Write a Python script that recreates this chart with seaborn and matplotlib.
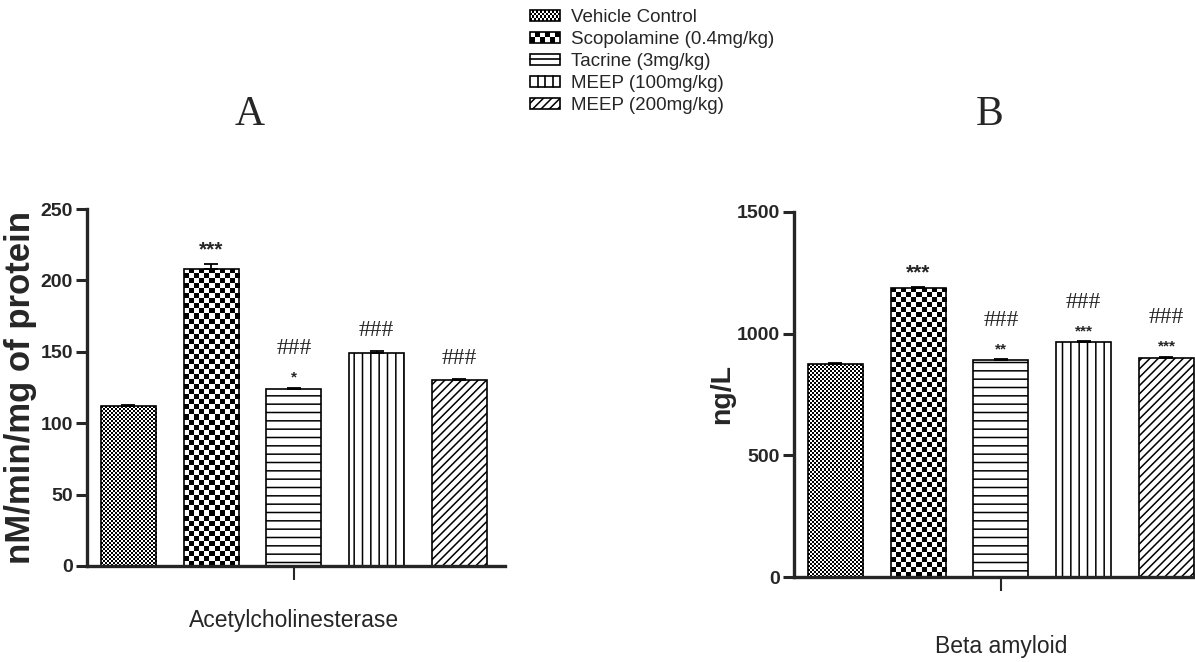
import numpy as np
import pandas as pd
import matplotlib
matplotlib.use("Agg")
import matplotlib.pyplot as plt
import seaborn as sns
from matplotlib.patches import Patch, Rectangle
from matplotlib.lines import Line2D
from matplotlib.legend_handler import HandlerBase

# data
groups = ["Vehicle Control", "Scopolamine (0.4mg/kg)", "Tacrine (3mg/kg)",
          "MEEP (100mg/kg)", "MEEP (200mg/kg)"]
ache_mean = [112, 208, 124, 149, 130]
ache_sem = [0.8, 3.5, 1.0, 1.5, 0.7]
ache_stars = ["", "***", "*", "", ""]
ache_hash = ["", "", "###", "###", "###"]
ache_yticks = [0, 50, 100, 150, 200, 250]

abeta_mean = [875, 1188, 892, 966, 900]
abeta_sem = [3, 4, 4, 4, 6]
abeta_stars = ["", "***", "**", "***", "***"]
abeta_hash = ["", "", "###", "###", "###"]
abeta_yticks = [0, 500, 1000, 1500]

# fill style per group: ("checker", cell px) or a hatch string
fills = [("checker", 2.0), ("checker", 5.0), "--", "||", "////"]
# legend swatch patterns: (kind, count)
swatches = [("checker", (15, 4)), ("checker", (6, 2)), ("hlines", 1),
            ("vlines", 3), ("hatch", "////")]

sns.set_style("ticks")
plt.rcParams["font.family"] = ["Liberation Sans", "DejaVu Sans"]
plt.rcParams["hatch.linewidth"] = 1.1
SANS = ["Liberation Sans", "DejaVu Sans"]
SERIF = ["Liberation Serif", "DejaVu Serif"]

W, H = 1195, 662
fig = plt.figure(figsize=(W / 100, H / 100), dpi=100)


def checker_fill(ax, patch, cell):
    x0, y0 = patch.get_x(), patch.get_y()
    w, h = patch.get_width(), patch.get_height()
    p0 = ax.transData.transform((x0, y0))
    p1 = ax.transData.transform((x0 + w, y0 + h))
    nc = max(1, int(round(abs(p1[0] - p0[0]) / cell)))
    nr = max(1, int(round(abs(p1[1] - p0[1]) / cell)))
    board = np.indices((nr, nc)).sum(axis=0) % 2
    im = ax.imshow(board, cmap="gray_r", vmin=0, vmax=1, origin="lower",
                   extent=(x0, x0 + w, y0, y0 + h), aspect="auto",
                   interpolation="nearest", zorder=patch.get_zorder() - 0.1)
    im.set_clip_path(patch)
    patch.set_facecolor("none")


def panel(rect, means, sems, stars, hashes, yticks, ylabel, ylab_size,
          xlabel, ylab_x, xlab_y):
    ax = fig.add_axes(rect)
    df = pd.DataFrame({"group": groups, "value": means})
    sns.barplot(data=df, x="group", y="value", hue="group", order=groups,
                hue_order=groups, palette=["white"] * len(groups),
                edgecolor="black", linewidth=1.2, width=0.665,
                legend=False, ax=ax)
    ax.set_xlim(-0.5, 4.55)
    ax.set_ylim(0, yticks[-1])
    bars = list(ax.patches)
    for p, f in zip(bars, fills):
        if isinstance(f, tuple):
            checker_fill(ax, p, f[1])
        else:
            p.set_hatch(f)
    ax.set_xlim(-0.5, 4.55)
    ax.set_ylim(0, yticks[-1])

    xs = [p.get_x() + p.get_width() / 2 for p in bars]
    ax.errorbar(xs, means, yerr=[np.zeros(len(means)), sems], fmt="none",
                ecolor="black", elinewidth=1.3, capsize=5, capthick=1.3,
                zorder=5)

    for x, m, s, st, hs in zip(xs, means, sems, stars, hashes):
        top = m + s
        if st and hs:
            ax.annotate(st, (x, top), xytext=(0, 7), textcoords="offset points",
                        ha="center", va="center", fontsize=11, fontweight="bold")
            ax.annotate(hs, (x, top), xytext=(0, 28), textcoords="offset points",
                        ha="center", va="center", fontsize=17, family=SERIF)
        elif st:
            ax.annotate(st, (x, top), xytext=(0, 10), textcoords="offset points",
                        ha="center", va="center", fontsize=15, fontweight="bold")
        elif hs:
            ax.annotate(hs, (x, top), xytext=(0, 15), textcoords="offset points",
                        ha="center", va="center", fontsize=17, family=SERIF)

    sns.despine(ax=ax)
    for sp in ("left", "bottom"):
        ax.spines[sp].set_linewidth(2.4)
    ax.set_xticks([2])
    ax.set_xticklabels([""])
    ax.tick_params(axis="x", direction="out", length=10, width=1.5)
    ax.set_yticks(yticks)
    ax.set_yticklabels([str(t) for t in yticks], family=SANS,
                       fontweight="bold", fontsize=14)
    ax.tick_params(axis="y", direction="out", length=8, width=2.2, pad=2)
    ax.set_ylabel(ylabel, fontsize=ylab_size, fontweight="bold")
    ax.yaxis.set_label_coords(ylab_x, 0.5)
    ax.set_xlabel(xlabel, fontsize=16.5)
    ax.xaxis.set_label_coords(2.5 / 5.05, xlab_y)
    return ax


axA = panel([87 / W, (H - 566) / H, 418 / W, 357 / H], ache_mean, ache_sem,
            ache_stars, ache_hash, ache_yticks, "nM/min/mg of protein", 25,
            "Acetylcholinesterase", -0.12, -0.12)
axB = panel([794 / W, (H - 577) / H, 418 / W, 365 / H], abeta_mean, abeta_sem,
            abeta_stars, abeta_hash, abeta_yticks, "ng/L", 20.5,
            "Beta amyloid", -0.14, -0.16)

fig.text(250 / W, 1 - 115 / H, "A", family=SERIF, fontsize=30,
         ha="center", va="center")
fig.text(990 / W, 1 - 115 / H, "B", family=SERIF, fontsize=30,
         ha="center", va="center")


class SwatchHandler(HandlerBase):
    def __init__(self, kind, arg):
        super().__init__()
        self.kind, self.arg = kind, arg

    def create_artists(self, legend, orig_handle, xdescent, ydescent,
                       width, height, fontsize, trans):
        x0, y0 = -xdescent, -ydescent
        arts = []
        if self.kind == "checker":
            nc, nr = self.arg
            cw, ch = width / nc, height / nr
            for i in range(nc):
                for j in range(nr):
                    if (i + j) % 2 == 0:
                        arts.append(Rectangle((x0 + i * cw, y0 + j * ch), cw, ch,
                                              facecolor="black", edgecolor="none",
                                              transform=trans))
        elif self.kind == "hlines":
            for k in range(1, self.arg + 1):
                yy = y0 + height * k / (self.arg + 1)
                arts.append(Line2D([x0, x0 + width], [yy, yy], color="black",
                                   lw=1.2, transform=trans))
        elif self.kind == "vlines":
            for k in range(1, self.arg + 1):
                xx = x0 + width * k / (self.arg + 1)
                arts.append(Line2D([xx, xx], [y0, y0 + height], color="black",
                                   lw=1.2, transform=trans))
        box = Rectangle((x0, y0), width, height, facecolor="none",
                        edgecolor="black", lw=1.2, transform=trans,
                        hatch=self.arg if self.kind == "hatch" else None)
        arts.append(box)
        return arts


handles = [Patch(facecolor="white", edgecolor="black", label=g) for g in groups]
hmap = {h: SwatchHandler(k, a) for h, (k, a) in zip(handles, swatches)}

fig.legend(handles=handles, labels=groups, handler_map=hmap,
           loc="upper left", bbox_to_anchor=(530 / W, 1 - 9 / H),
           frameon=False, prop={"family": SANS, "size": 13.5},
           handlelength=1.6, handleheight=0.55, handletextpad=0.6,
           labelspacing=0.27, borderpad=0, borderaxespad=0)

fig.savefig("out.png", dpi=100)
